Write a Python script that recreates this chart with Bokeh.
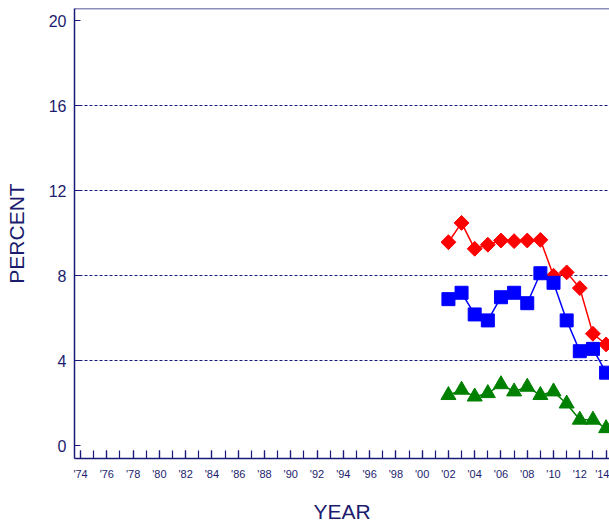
from bokeh.plotting import figure
from bokeh.models import FixedTicker, Range1d, Span
from bokeh.embed import file_html
from bokeh.resources import INLINE
import numpy as np

# ---- data ----
years = [2002, 2003, 2004, 2005, 2006, 2007, 2008, 2009, 2010, 2011, 2012, 2013, 2014]
red_vals = [9.58, 10.49, 9.27, 9.46, 9.66, 9.63, 9.66, 9.69, 8.00, 8.16, 7.42, 5.27, 4.77]
blue_vals = [6.90, 7.20, 6.18, 5.90, 6.99, 7.20, 6.71, 8.12, 7.67, 5.90, 4.45, 4.56, 3.44]
green_vals = [2.38, 2.63, 2.31, 2.47, 2.89, 2.55, 2.77, 2.38, 2.55, 1.98, 1.22, 1.22, 0.82]

x_major_ticks = list(range(1974, 2016, 2))
x_minor_ticks = list(range(1974, 2016, 1))
x_tick_labels = ["'74", "'76", "'78", "'80", "'82", "'84", "'86", "'88", "'90", "'92", "'94",
                 "'96", "'98", "'00", "'02", "'04", "'06", "'08", "'10", "'12", "'14"]
y_ticks = [0, 4, 8, 12, 16, 20]
y_grid = [4, 8, 12, 16]
x_title = "YEAR"
y_title = "PERCENT"

NAVY = "#1c1c6e"
AXIS = "#1a1a7a"
FONT = "Liberation Sans"

Y_END = 20.58
p = figure(width=609, height=525, output_backend="svg", toolbar_location=None,
           x_range=Range1d(1973.54, 2014.26), y_range=Range1d(-0.60, Y_END),
           min_border_left=74, min_border_right=0, min_border_top=8, min_border_bottom=67,
           background_fill_color="white", border_fill_color="white")
p.outline_line_color = None

top_line = Span(location=Y_END, dimension="width", line_color=AXIS, line_width=1.5)
p.add_layout(top_line)

# x axis
xa = p.xaxis[0]
xa.ticker = FixedTicker(ticks=x_major_ticks, minor_ticks=x_minor_ticks)
xa.major_label_overrides = {t: l for t, l in zip(x_major_ticks, x_tick_labels)}
xa.axis_line_color = AXIS
xa.axis_line_width = 1.5
xa.major_tick_in = 8
xa.major_tick_out = 0
xa.minor_tick_in = 8
xa.minor_tick_out = 0
xa.major_tick_line_color = AXIS
xa.minor_tick_line_color = AXIS
xa.major_tick_line_width = 1.2
xa.minor_tick_line_width = 1.2
xa.major_label_text_font = FONT
xa.major_label_text_font_size = "11px"
xa.major_label_text_color = NAVY
xa.major_label_standoff = 9
xa.axis_label = x_title
xa.axis_label_text_font = FONT
xa.axis_label_text_font_size = "21px"
xa.axis_label_text_font_style = "normal"
xa.axis_label_text_color = NAVY
xa.axis_label_standoff = 17

# y axis
ya = p.yaxis[0]
ya.ticker = FixedTicker(ticks=y_ticks, minor_ticks=[])
ya.axis_line_color = AXIS
ya.axis_line_width = 1.5
ya.major_tick_in = 6
ya.major_tick_out = 0
ya.major_tick_line_color = AXIS
ya.major_label_text_font = FONT
ya.major_label_text_font_size = "16px"
ya.major_label_text_color = NAVY
ya.major_label_standoff = 8
ya.axis_label = y_title
ya.axis_label_text_font = FONT
ya.axis_label_text_font_size = "21px"
ya.axis_label_text_font_style = "normal"
ya.axis_label_text_color = NAVY
ya.axis_label_standoff = 18

p.xgrid.grid_line_color = None
p.ygrid.ticker = FixedTicker(ticks=y_grid, minor_ticks=[])
p.ygrid.grid_line_color = AXIS
p.ygrid.grid_line_dash = "3 2"
p.ygrid.grid_line_width = 1

# series
p.line(years, red_vals, line_color="#ff0000", line_width=1.5)
p.scatter(years, red_vals, marker="square", angle=np.pi / 4, size=10.5,
          fill_color="#ff0000", line_color="#ff0000")

p.line(years, blue_vals, line_color="#0000ff", line_width=1.5)
p.scatter(years, blue_vals, marker="square", size=13,
          fill_color="#0000ff", line_color="#0000ff")

p.line(years, green_vals, line_color="#008000", line_width=1.5)
p.scatter(years, green_vals, marker="triangle", size=15,
          fill_color="#008000", line_color="#008000")

open("out.html", "w").write(file_html(p, INLINE))
